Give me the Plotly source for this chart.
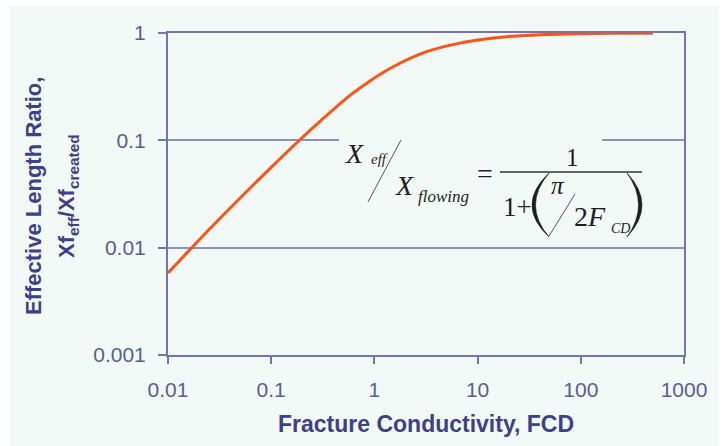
import plotly.graph_objects as go

# Fracture conductivity (dimensionless) and effective length ratio
fcd = [0.01, 0.02, 0.05, 0.1, 0.177, 0.297, 0.58, 0.906, 1.52, 3.21, 6.75, 14.2, 25.8, 50, 100, 200, 500]
ratio = [0.0058, 0.0118, 0.029, 0.056, 0.095, 0.150, 0.262, 0.358, 0.485, 0.67, 0.805, 0.898, 0.943, 0.97, 0.985, 0.992, 0.997]

x_tickvals = [0.01, 0.1, 1, 10, 100, 1000]
x_ticktext = ["0.01", "0.1", "1", "10", "100", "1000"]
y_tickvals = [0.001, 0.01, 0.1, 1]
y_ticktext = ["0.001", "0.01", "0.1", "1"]

W, H = 728, 446
L, R, T, B = 168, 684, 33, 355  # plot-area edges in pixels

BG = "#f2f9f7"
AXIS = "#7175b3"
GRID = "#8c90c6"
TICKFONT = "#585e92"
TITLEFONT = "#3d418a"
CURVE = "#ff5216"
INK = "#1e1e1e"


def px(x):
    return (x - L) / (R - L)


def py(y):
    return (B - y) / (B - T)


def paren(x_end, x_outer, x_inner, y_top, y_bot):
    """Crescent-shaped parenthesis path in paper coordinates."""
    ym = (y_top + y_bot) / 2
    co = 2 * x_outer - x_end
    ci = 2 * x_inner - x_end
    return (f"M {px(x_end)},{py(y_top)} Q {px(co)},{py(ym)} {px(x_end)},{py(y_bot)} "
            f"Q {px(ci)},{py(ym)} {px(x_end)},{py(y_top)} Z")


fig = go.Figure()
fig.add_trace(go.Scatter(x=fcd, y=ratio, mode="lines",
                         line=dict(color=CURVE, width=3, shape="spline", smoothing=0.8),
                         hoverinfo="skip", showlegend=False))

shapes = [
    # mint panel behind the whole chart
    dict(type="rect", xref="paper", yref="paper", x0=px(10), x1=px(719), y0=py(460), y1=py(6),
         fillcolor=BG, line=dict(width=0), layer="below"),
    # panel behind the formula, interrupting the 0.1 grid line
    dict(type="rect", xref="paper", yref="paper", x0=px(339), x1=px(602), y0=py(242), y1=py(128),
         fillcolor=BG, line=dict(width=0), layer="above"),
    # slash in X_eff / X_flowing
    dict(type="line", xref="paper", yref="paper", x0=px(368), y0=py(202), x1=px(401), y1=py(140),
         line=dict(color="#555555", width=1)),
    # main fraction bar
    dict(type="line", xref="paper", yref="paper", x0=px(500), y0=py(172), x1=px(642), y1=py(172),
         line=dict(color="#333333", width=1.5)),
    # slash in pi / 2F_CD
    dict(type="line", xref="paper", yref="paper", x0=px(549), y0=py(236), x1=px(575), y1=py(194),
         line=dict(color="#555555", width=1)),
    # large parentheses around pi / 2F_CD
    dict(type="path", xref="paper", yref="paper", path=paren(549, 532, 535.5, 173, 237),
         fillcolor=INK, line=dict(color=INK, width=0.6)),
    dict(type="path", xref="paper", yref="paper", path=paren(627, 642, 638.5, 173, 237),
         fillcolor=INK, line=dict(color=INK, width=0.6)),
]

SERIF = "Liberation Serif, Times New Roman, serif"


def label(text, x, y, size, italic=True, color=INK, family=SERIF):
    return dict(text=text, xref="paper", yref="paper", x=px(x), y=py(y),
                xanchor="center", yanchor="middle", showarrow=False,
                font=dict(family=family, size=size, color=color,
                          style="italic" if italic else "normal"))


annotations = [
    label("X", 354, 153, 28),
    label("eff", 379, 159, 15),
    label("X", 404, 185, 28),
    label("flowing", 443, 196, 17),
    label("=", 485, 173, 28, italic=False),
    label("1", 572, 157, 25, italic=False),
    label("1+", 517, 207, 27, italic=False),
    label("π", 558, 185, 25),
    label("2<i>F</i>", 590, 216, 28, italic=False),
    label("CD", 620, 228, 14),
    # y-axis title, two lines
    dict(text="<b>Effective Length Ratio,</b>", xref="paper", yref="paper",
         x=px(33), y=py(196), xanchor="center", yanchor="middle", textangle=-90,
         showarrow=False, font=dict(family="Liberation Sans, Arial", size=22, color=TITLEFONT)),
    dict(text="<b>Xf<sub>eff</sub>/Xf<sub>created</sub></b>", xref="paper", yref="paper",
         x=px(68), y=py(196), xanchor="center", yanchor="middle", textangle=-90,
         showarrow=False, font=dict(family="Liberation Sans, Arial", size=22, color=TITLEFONT)),
    # x-axis title
    dict(text="<b>Fracture Conductivity, FCD</b>", xref="paper", yref="paper",
         x=px(426), y=py(424), xanchor="center", yanchor="middle",
         showarrow=False, font=dict(family="Liberation Sans, Arial", size=23, color=TITLEFONT)),
]

fig.update_layout(
    width=W, height=H,
    margin=dict(l=L, r=W - R, t=T, b=H - B),
    paper_bgcolor="white",
    plot_bgcolor=BG,
    shapes=shapes,
    annotations=annotations,
    font=dict(family="Liberation Sans, Arial", size=21, color=TICKFONT),
    xaxis=dict(type="log", range=[-2, 3], tickvals=x_tickvals, ticktext=x_ticktext,
               ticks="outside", ticklen=7, tickwidth=1.5, tickcolor=AXIS,
               showline=True, linecolor=AXIS, linewidth=2, mirror=True,
               showgrid=False, zeroline=False, ticklabelstandoff=8,
               tickfont=dict(size=21, color=TICKFONT)),
    yaxis=dict(type="log", range=[-3, 0], tickvals=y_tickvals, ticktext=y_ticktext,
               ticks="outside", ticklen=8, tickwidth=1.5, tickcolor=AXIS,
               showline=True, linecolor=AXIS, linewidth=2, mirror=True,
               showgrid=True, gridcolor=GRID, gridwidth=1.5, zeroline=False,
               ticklabelstandoff=8,
               tickfont=dict(size=21, color=TICKFONT)),
)

fig.write_html("out.html")
